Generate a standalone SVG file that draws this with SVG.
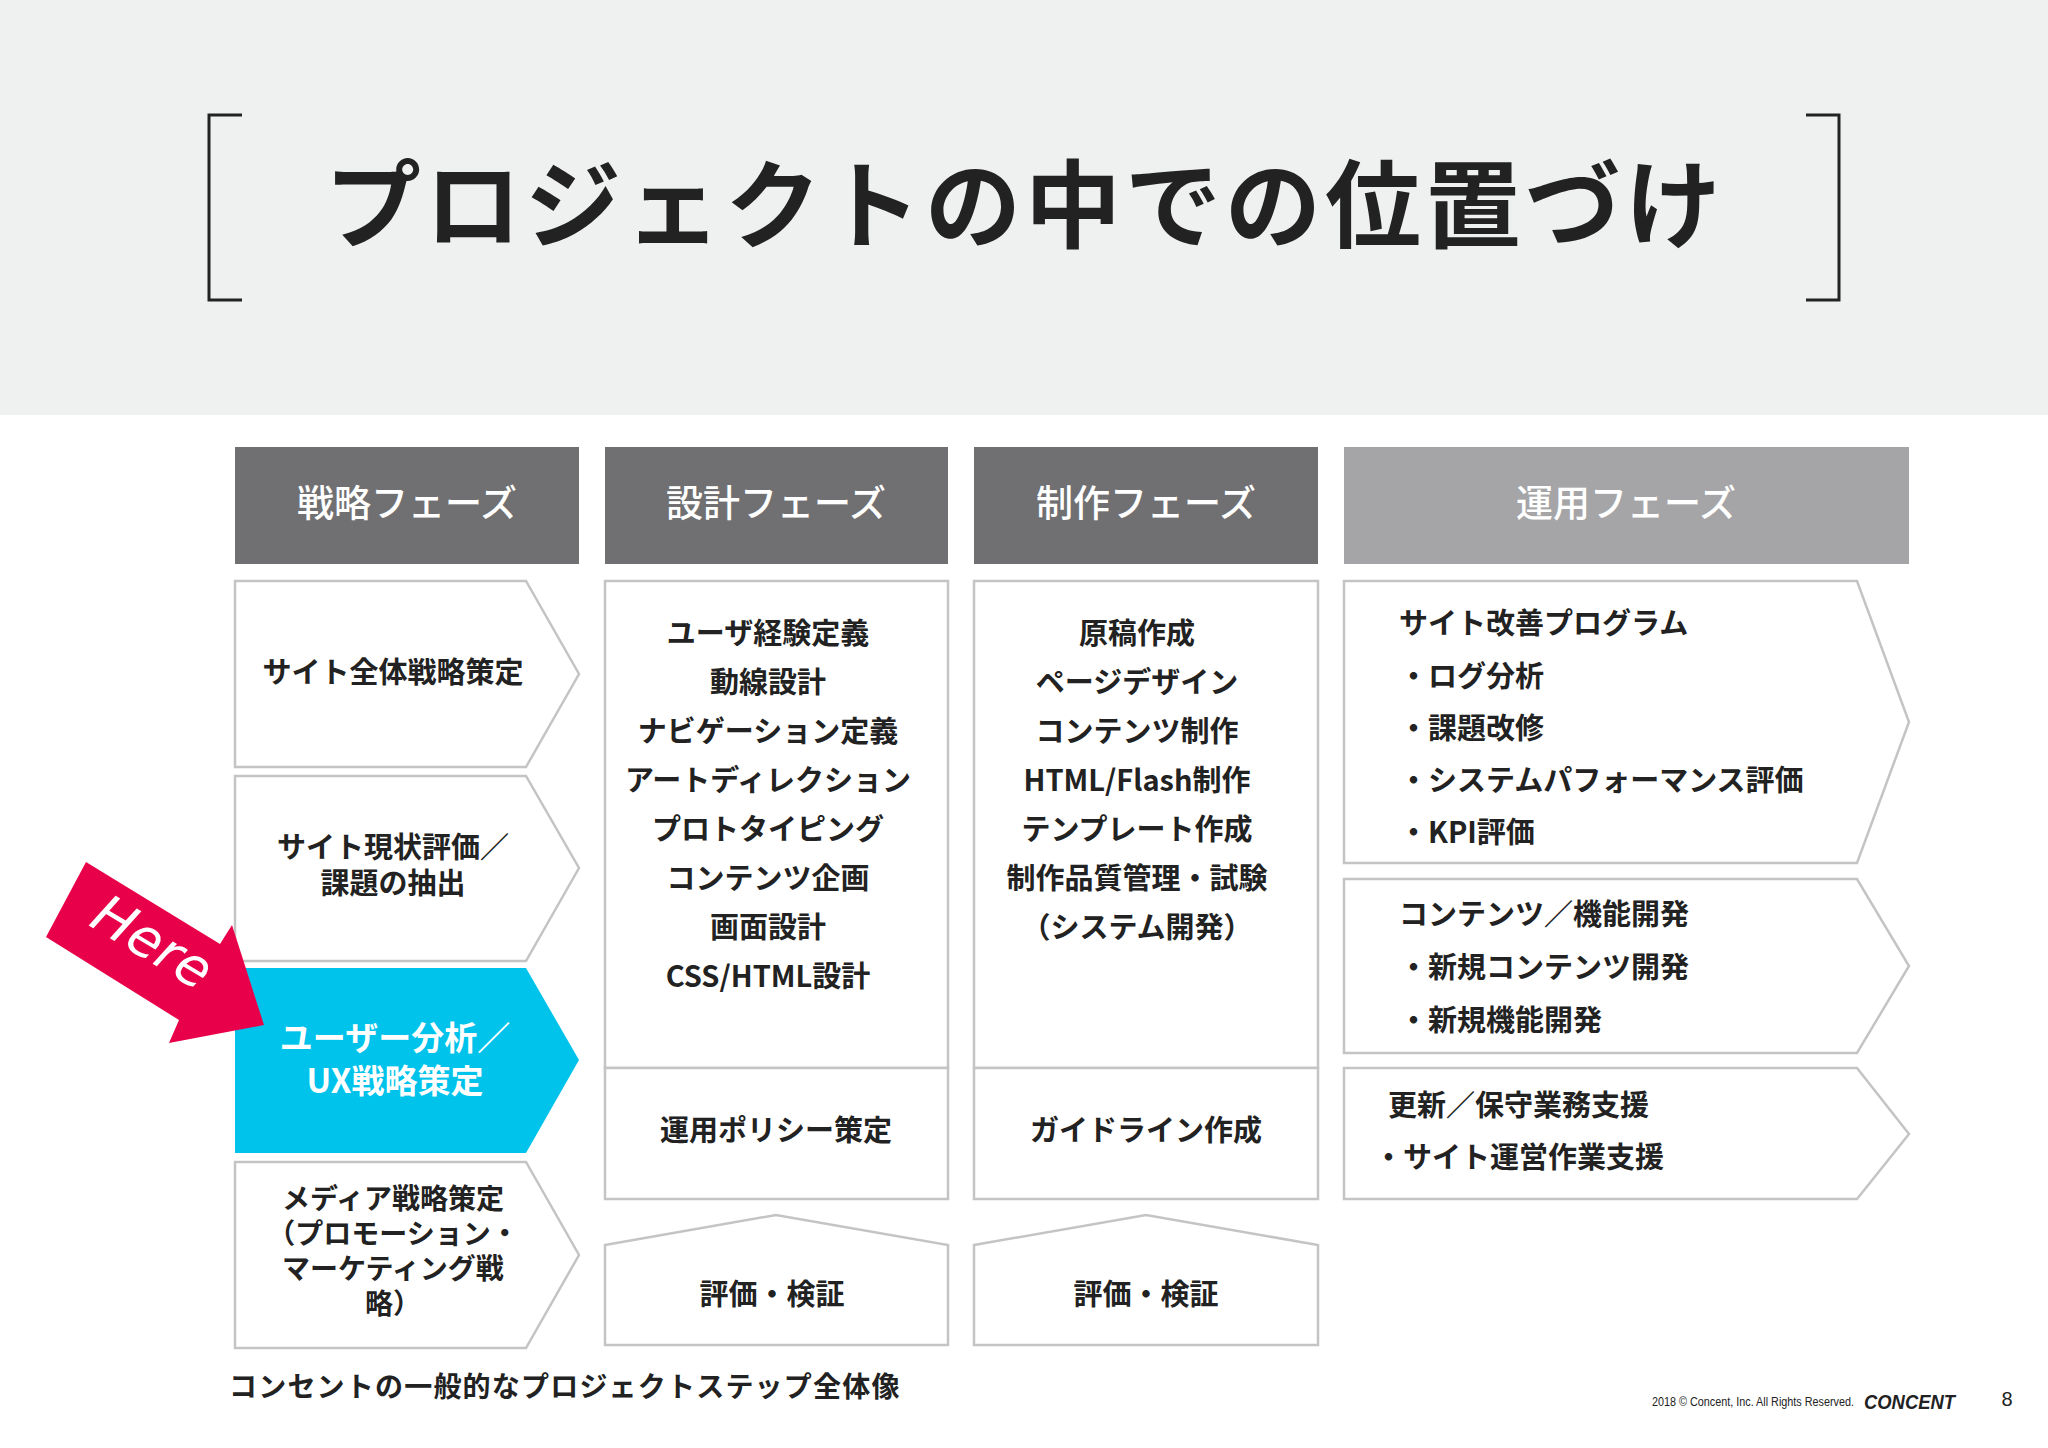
<svg xmlns="http://www.w3.org/2000/svg" width="2048" height="1448" viewBox="0 0 2048 1448">
<style>
text{font-family:"Noto Sans CJK JP","Noto Sans",sans-serif;font-weight:700;fill:#222}
.h{fill:#fff;font-size:37px;text-anchor:middle;font-weight:500}
.b{fill:#fff;stroke:#c4c4c6;stroke-width:2.5}
.t{font-size:29px;text-anchor:middle}
.l{font-size:29px}
</style>
<rect x="0" y="0" width="2048" height="415" fill="#eef1f0"/>
<rect x="0" y="415" width="2048" height="1033" fill="#fff"/>
<g id="title" fill="none" stroke="#222" stroke-width="3">
<path d="M242,115 H209 V300 H242"/>
<path d="M1806,115 H1839 V300 H1806"/>
</g>
<text x="1025" y="240" font-size="96" text-anchor="middle" font-weight="900" letter-spacing="4">プロジェクトの中での位置づけ</text>
<g id="headers">
<rect x="235" y="447" width="344" height="117" fill="#707072"/><text class="h" x="407" y="517">戦略フェーズ</text>
<rect x="605" y="447" width="343" height="117" fill="#707072"/><text class="h" x="776" y="517">設計フェーズ</text>
<rect x="974" y="447" width="344" height="117" fill="#707072"/><text class="h" x="1146" y="517">制作フェーズ</text>
<rect x="1344" y="447" width="565" height="117" fill="#a5a5a7"/><text class="h" x="1626" y="517">運用フェーズ</text>
</g>
<g id="strategy">
<g id="s1"><path class="b" d="M235,581 H526 L579,674 L526,767 H235 Z"/><text class="t" x="393" y="683">サイト全体戦略策定</text></g>
<g id="s2"><path class="b" d="M235,776 H526 L579,868 L526,961 H235 Z"/><text class="t" x="393" y="858">サイト現状評価／</text><text class="t" x="393" y="894">課題の抽出</text></g>
<g id="s3"><path d="M235,968 H526 L579,1060 L526,1153 H235 Z" fill="#00c3eb"/><text class="t" x="395" y="1050" style="fill:#fff;font-size:33px">ユーザー分析／</text><text class="t" x="395" y="1093" style="fill:#fff;font-size:33px">UX戦略策定</text></g>
<g id="s4"><path class="b" d="M235,1162 H526 L579,1255 L526,1348 H235 Z"/><text class="t" x="393" y="1209" style="font-size:28px">メディア戦略策定</text><text class="t" x="393" y="1244" style="font-size:28px">（プロモーション・</text><text class="t" x="393" y="1279" style="font-size:28px">マーケティング戦</text><text class="t" x="393" y="1314" style="font-size:28px">略）</text></g>
</g>
<g id="design">
<g id="d1"><rect class="b" x="605" y="581" width="343" height="487"/>
<text class="t" x="768" y="644">ユーザ経験定義</text><text class="t" x="768" y="693">動線設計</text><text class="t" x="768" y="742">ナビゲーション定義</text><text class="t" x="768" y="791">アートディレクション</text><text class="t" x="768" y="840">プロトタイピング</text><text class="t" x="768" y="889">コンテンツ企画</text><text class="t" x="768" y="938">画面設計</text><text class="t" x="768" y="987">CSS/HTML設計</text></g>
<g id="d2"><rect class="b" x="605" y="1068" width="343" height="131"/><text class="t" x="776" y="1141">運用ポリシー策定</text></g>
<g id="d3"><path class="b" d="M605,1245 L776,1215 L948,1245 V1345 H605 Z"/><text class="t" x="772" y="1305">評価・検証</text></g>
</g>
<g id="production">
<g id="p1"><rect class="b" x="974" y="581" width="344" height="487"/>
<text class="t" x="1137" y="644">原稿作成</text><text class="t" x="1137" y="693">ページデザイン</text><text class="t" x="1137" y="742">コンテンツ制作</text><text class="t" x="1137" y="791">HTML/Flash制作</text><text class="t" x="1137" y="840">テンプレート作成</text><text class="t" x="1137" y="889">制作品質管理・試験</text><text class="t" x="1137" y="938">（システム開発）</text></g>
<g id="p2"><rect class="b" x="974" y="1068" width="344" height="131"/><text class="t" x="1146" y="1141">ガイドライン作成</text></g>
<g id="p3"><path class="b" d="M974,1245 L1146,1215 L1318,1245 V1345 H974 Z"/><text class="t" x="1146" y="1305">評価・検証</text></g>
</g>
<g id="operation">
<g id="o1"><path class="b" d="M1344,581 H1857 L1909,722 L1857,863 H1344 Z"/>
<text class="l" x="1399" y="634">サイト改善プログラム</text><text class="l" x="1399" y="687">・ログ分析</text><text class="l" x="1399" y="739">・課題改修</text><text class="l" x="1399" y="791">・システムパフォーマンス評価</text><text class="l" x="1399" y="843">・KPI評価</text></g>
<g id="o2"><path class="b" d="M1344,879 H1857 L1909,966 L1857,1053 H1344 Z"/>
<text class="l" x="1399" y="925">コンテンツ／機能開発</text><text class="l" x="1399" y="978">・新規コンテンツ開発</text><text class="l" x="1399" y="1031">・新規機能開発</text></g>
<g id="o3"><path class="b" d="M1344,1068 H1857 L1909,1134 L1857,1199 H1344 Z"/>
<text class="l" x="1388" y="1116">更新／保守業務支援</text><text class="l" x="1374" y="1168">・サイト運営作業支援</text></g>
</g>
<g id="here">
<path d="M46,937 L86,862 L220,944 L232,925 L264,1025 L169,1043 L179,1020 Z" fill="#e8004a"/>
<text x="0" y="0" transform="translate(143,958) rotate(31)" font-size="54" text-anchor="middle" style="fill:#fff;font-family:'DejaVu Sans',sans-serif;font-weight:200;font-style:italic">Here</text>
</g>
<text x="229" y="1397" font-size="28" letter-spacing="1.2">コンセントの一般的なプロジェクトステップ全体像</text>
<text x="1652" y="1406" font-size="12" textLength="202" lengthAdjust="spacingAndGlyphs" style="font-weight:400;font-family:'Liberation Sans',sans-serif">2018 © Concent, Inc. All Rights Reserved.</text>
<text x="1864" y="1409" font-size="21" textLength="91" lengthAdjust="spacingAndGlyphs" font-style="italic" style="font-family:'Liberation Sans',sans-serif;font-weight:700">CONCENT</text>
<text x="2007" y="1406" font-size="20" text-anchor="middle" style="font-family:'Liberation Sans',sans-serif;font-weight:400">8</text>
</svg>
